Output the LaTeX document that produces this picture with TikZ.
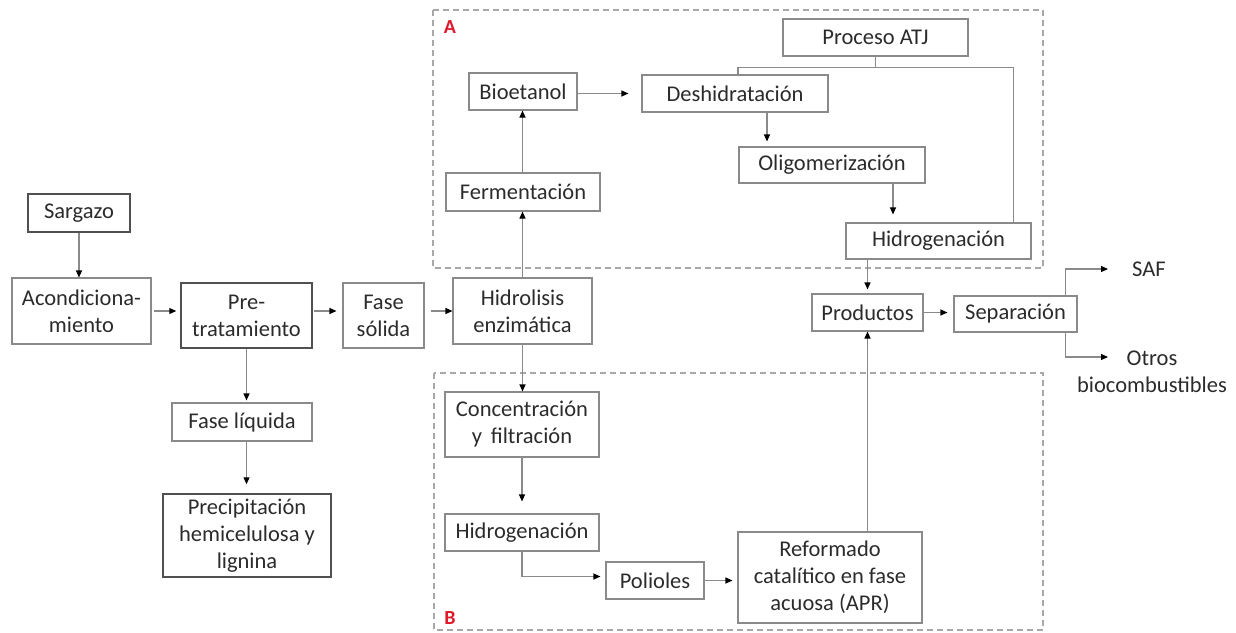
\documentclass[tikz,border=0pt]{standalone}
\usepackage{fontspec}
\setmainfont{Carlito}
\usetikzlibrary{arrows.meta,calc}
\definecolor{boxline}{HTML}{8A8A8A}
\definecolor{darkline}{HTML}{505050}
\definecolor{txt}{HTML}{2B2B2B}
\definecolor{dashc}{HTML}{A8A8A8}
\definecolor{tagred}{HTML}{E0182C}

\begin{document}
\begin{tikzpicture}[x=1pt,y=-1pt,
  every node/.style={font=\fontsize{22.5}{27}\selectfont, text=txt},
  box/.style 2 args={draw=boxline, line width=1.1pt, align=center, inner sep=0pt,
    minimum width=#1pt, minimum height=#2pt},
  boldbox/.style 2 args={box={#1}{#2}, draw=darkline, line width=1.5pt},
  plain/.style={inner sep=0pt, align=center},
  tag/.style={inner sep=0pt, text=tagred, font=\fontsize{20}{24}\selectfont\bfseries},
  region/.style={draw=dashc, line width=1.1pt, dash pattern=on 6pt off 4pt},
  conn/.style={draw=boxline, line width=1.1pt},
  arr/.style={conn, -{Triangle[length=7pt,width=6pt,color=black]}}]

\useasboundingbox (0,0) rectangle (1236,632);

% dashed process regions
\draw[region] (433,10) rectangle (1043,268);
\draw[region] (434,373) rectangle (1043,630);
\node[tag] (labA) at (450,27) {A};
\node[tag] (labB) at (450,618) {B};

% pretreatment line
\node[boldbox={102}{38}] (sarg) at (79,213) {Sargazo};
\node[box={139}{66}] (acond) at (81.5,311) {Acondiciona-\\miento};
\node[boldbox={131}{65}] (pre) at (246.5,315.5) {Pre-\\tratamiento};
\node[box={81}{65}] (fsol) at (383.5,315.5) {Fase\\sólida};
\node[box={139}{66}] (hid) at (522.5,311) {Hidrolisis\\enzimática};
\node[box={140}{38}] (fliq) at (242,422) {Fase líquida};
\node[boldbox={168}{83}] (prec) at (247,535.5) {Precipitación\\hemicelulosa y\\lignina};

% route A: alcohol to jet
\node[box={185}{37}] (atj) at (875.5,37.5) {Proceso ATJ};
\node[box={108}{37}] (bio) at (523,91.5) {Bioetanol};
\node[box={186}{37}] (desh) at (735,93.5) {Deshidratación};
\node[box={186}{36}] (olig) at (832,165) {Oligomerización};
\node[box={154}{38}] (ferm) at (523,192) {Fermentación};
\node[box={185}{36}] (hidA) at (938.5,241) {Hidrogenación};

% products
\node[box={111}{37}] (prod) at (867.5,312.5) {Productos};
\node[box={123}{36}] (sep) at (1015.5,314) {Separación};
\node[plain, anchor=west] (saf) at (1132,269) {SAF};
\node[plain] (otros) at (1152,371.5) {Otros\\biocombustibles};
\coordinate (otrtip) at (1108,357);

% route B: aqueous phase reforming
\node[box={154}{65}] (conc) at (522,424.5) {Concentración\\y\, filtración};
\node[box={154}{37}] (hidB) at (522,532.5) {Hidrogenación};
\node[box={98}{37}] (pol) at (655,580.5) {Polioles};
\node[box={184}{91}] (ref) at (830,577.5) {Reformado\\catalítico en fase\\acuosa (APR)};

% connectors, left part
\draw[arr] (sarg.south) -- (sarg.south |- acond.north);
\draw[arr, shorten <=2pt, shorten >=4pt] (acond.east) -- (acond.east -| pre.west);
\draw[arr, shorten <=1pt, shorten >=6pt] (pre.east |- acond.east) -- (fsol.west |- acond.east);
\draw[arr, shorten <=6pt] (fsol.east |- hid.west) -- (hid.west);
\draw[arr, shorten >=2pt] (pre.south) -- (pre.south |- fliq.north);
\draw[arr, shorten >=9pt] (fliq.south -| pre.south) -- (pre.south |- prec.north);

% connectors, route A
\draw[arr] (hid.north) -- (hid.north |- ferm.south);
\draw[arr] (ferm.north -| hid.north) -- (bio.south -| hid.north);
\draw[arr, shorten >=13pt] (bio.east |- desh.west) -- (desh.west);
\draw[arr, shorten >=5pt] ([xshift=32pt]desh.south) -- ([xshift=32pt]desh.south |- olig.north);
\draw[arr, shorten >=8pt] ([xshift=61pt]olig.south) -- ([xshift=61pt]olig.south |- hidA.north);
\coordinate (brk) at ($(atj.south)+(0,11)$);
\draw[conn] (atj.south) -- (brk);
\draw[conn] ([xshift=3pt]desh.north) |- ([xshift=-18pt]hidA.north east |- brk) -- ([xshift=-18pt]hidA.north east);
\draw[arr, shorten >=4pt] (hidA.south -| prod.north) -- (prod.north);

% connectors, route B
\draw[arr] (hid.south) -- (hid.south |- conc.north);
\draw[arr, shorten >=12pt] (conc.south) -- (conc.south |- hidB.north);
\draw[arr, shorten >=5pt] (hidB.south) |- ([yshift=4pt]pol.west);
\draw[arr, shorten >=5pt] (pol.east) -- (pol.east -| ref.west);
\draw[arr] (ref.north -| prod.south) -- (prod.south);

% separation outputs
\draw[arr, shorten >=6pt] (prod.east) -- (prod.east -| sep.west);
\draw[arr, shorten >=24pt] ([xshift=-12pt]sep.north east) |- (saf.west);
\draw[arr] ([xshift=-12pt]sep.south east) |- (otrtip);

\end{tikzpicture}
\end{document}
